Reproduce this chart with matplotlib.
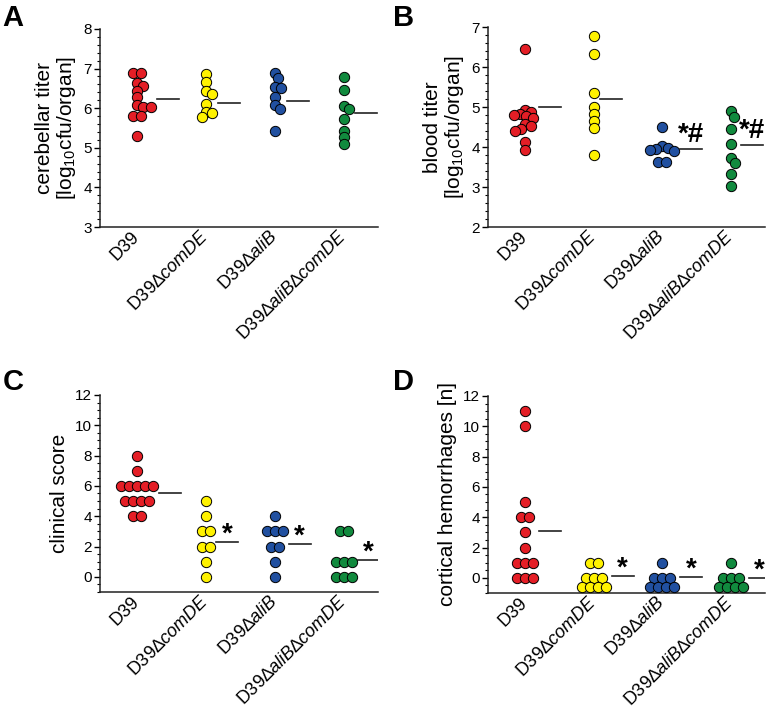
import matplotlib
matplotlib.use("Agg")
import matplotlib.pyplot as plt
from matplotlib.ticker import MultipleLocator
import numpy as np

plt.rcParams['font.family'] = ['Liberation Sans', 'DejaVu Sans']
plt.rcParams['mathtext.fontset'] = 'custom'
plt.rcParams['mathtext.rm'] = 'Liberation Sans'
plt.rcParams['mathtext.it'] = 'Liberation Sans:italic'

# group names and colours
groups = ['D39', 'D39\u2206$\\mathit{comDE}$', 'D39\u2206$\\mathit{aliB}$',
          'D39\u2206$\\mathit{aliB}$\u2206$\\mathit{comDE}$']
colors = ['#E41E26', '#FFF200', '#2150A0', '#118A3E']

# A: cerebellar titer
cereb = [
    [6.90, 6.90, 6.64, 6.56, 6.44, 6.27, 6.07, 6.02, 6.02, 5.80, 5.80, 5.29],
    [6.86, 6.66, 6.44, 6.36, 6.10, 5.90, 5.87, 5.77],
    [6.90, 6.76, 6.54, 6.52, 6.29, 6.07, 5.97, 5.43],
    [6.78, 6.46, 6.05, 5.98, 5.73, 5.43, 5.26, 5.09],
]
cereb_mean = [6.23, 6.14, 6.17, 5.88]
cereb_sig = ['', '', '', '']

# B: blood titer
blood = [
    [6.45, 4.93, 4.88, 4.82, 4.80, 4.77, 4.72, 4.58, 4.52, 4.45, 4.40, 4.12, 3.92],
    [6.78, 6.32, 5.35, 5.00, 4.82, 4.65, 4.48, 3.80],
    [4.50, 4.03, 3.97, 3.95, 3.93, 3.90, 3.62, 3.62],
    [4.89, 4.75, 4.46, 4.07, 3.73, 3.61, 3.33, 3.03],
]
blood_mean = [4.99, 5.20, 3.95, 4.05]
blood_sig = ['', '', '*#', '*#']

# C: clinical score
score = [
    [8, 7, 6, 6, 6, 6, 6, 5, 5, 5, 5, 4, 4],
    [5, 4, 3, 3, 2, 2, 1, 0],
    [4, 3, 3, 3, 2, 2, 1, 0],
    [3, 3, 1, 1, 1, 0, 0, 0],
]
score_mean = [5.54, 2.32, 2.15, 1.12]
score_sig = ['', '*', '*', '*']

# D: cortical hemorrhages
hemo = [
    [11, 10, 5, 4, 4, 3, 2, 1, 1, 1, 0, 0, 0],
    [1, 1, 0, 0, 0, 0, 0, 0, 0],
    [1, 0, 0, 0, 0, 0, 0, 0],
    [1, 0, 0, 0, 0, 0, 0, 0],
]
hemo_mean = [3.12, 0.15, 0.07, 0.0]
hemo_sig = ['', '*', '*', '*']

W, H = 769, 715
fig = plt.figure(figsize=(W / 100, H / 100), dpi=100)

TIE = 8.0      # px between dots with the same value
COLL = 6.5     # minimal px distance between other dots
RADIUS = 5.0


def swarm(values, ppx, ppy, max_row=None, row_dy=9.0):
    """Beeswarm layout in pixel space; returns x offsets and y values."""
    placed = []
    xs, ys = [], []
    for v in sorted(set(values), reverse=True):
        n = values.count(v)
        if max_row and n > max_row:
            rows = [(v, n - max_row), (v - row_dy / ppy, max_row)]
        else:
            rows = [(v, n)]
        for yv, m in rows:
            y_px = yv * ppy
            base = [(i - (m - 1) / 2) * TIE for i in range(m)]
            cands = [0.0]
            for px, py in placed:
                dy = abs(py - y_px)
                if dy < COLL:
                    dx = np.sqrt(COLL ** 2 - dy ** 2)
                    for b in base:
                        cands += [px + dx - b, px - dx - b]
            cands.sort(key=abs)
            shift = 0.0
            for c in cands:
                ok = all((c + b - px) ** 2 + (y_px - py) ** 2 >= COLL ** 2 - 1e-6
                         for b in base for px, py in placed)
                if ok:
                    shift = c
                    break
            for b in base:
                placed.append((shift + b, y_px))
                xs.append((shift + b) / ppx)
                ys.append(yv)
    return xs, ys


def panel(rect, data, means, sigs, ylim, yticks, minor, ylabel, letter, letter_xy,
          max_row=None):
    ax = fig.add_axes(rect)
    xlim = (-0.54, 3.5)
    ax.set_xlim(*xlim)
    ax.set_ylim(*ylim)
    ppx = rect[2] * W / (xlim[1] - xlim[0])
    ppy = rect[3] * H / (ylim[1] - ylim[0])
    for i, vals in enumerate(data):
        dx, yy = swarm(list(vals), ppx, ppy, max_row=max_row)
        ax.scatter(np.array(dx) + i, yy, s=55, color=colors[i], edgecolor='black',
                   linewidth=0.7, zorder=3, clip_on=False)
        x0 = i + max(dx) + (RADIUS + 1) / ppx
        x1 = x0 + 22 / ppx
        ax.plot([x0, x1], [means[i], means[i]], color='#222222', lw=1.2)
        if sigs[i]:
            off = 1 if len(sigs[i]) > 1 else -4
            ax.annotate(sigs[i], xy=((x0 + x1) / 2, means[i]), xytext=(0, off),
                        textcoords='offset points', ha='center', va='bottom',
                        fontsize=20, fontweight='bold')
    ax.spines['top'].set_visible(False)
    ax.spines['right'].set_visible(False)
    for s in ['left', 'bottom']:
        ax.spines[s].set_linewidth(1.1)
        ax.spines[s].set_color('#222222')
    ax.set_yticks(yticks)
    ax.yaxis.set_minor_locator(MultipleLocator(minor))
    ax.tick_params(axis='y', which='major', direction='out', length=4, width=1,
                   labelsize=11, pad=2)
    ax.tick_params(axis='y', which='minor', direction='out', length=2, width=0.8)
    ax.set_xticks(range(4))
    ax.set_xticklabels(groups, rotation=45, ha='right', va='center',
                       rotation_mode='anchor', fontsize=13)
    ax.tick_params(axis='x', length=0, pad=5)
    ax.set_ylabel(ylabel, fontsize=15, linespacing=1.05, labelpad=4)
    fig.text(letter_xy[0], letter_xy[1], letter, fontsize=21, fontweight='bold',
             ha='left', va='top')
    return ax


panel([0.130, 0.6825, 0.3615, 0.277], cereb, cereb_mean, cereb_sig, (3, 8),
      range(3, 9), 0.2, 'cerebellar titer\n[log$_{10}$cfu/organ]', 'A', (0.003, 0.995))
panel([0.6346, 0.6825, 0.3602, 0.2797], blood, blood_mean, blood_sig, (2, 7),
      range(2, 8), 0.2, 'blood titer\n[log$_{10}$cfu/organ]', 'B', (0.511, 0.995))
panel([0.130, 0.172, 0.3615, 0.2756], score, score_mean, score_sig, (-1, 12),
      range(0, 13, 2), 0.5, 'clinical score', 'C', (0.003, 0.485))
panel([0.6346, 0.1706, 0.3602, 0.2756], hemo, hemo_mean, hemo_sig, (-1, 12),
      range(0, 13, 2), 0.5, 'cortical hemorrhages [n]', 'D', (0.511, 0.485),
      max_row=4)

fig.savefig('out.png', dpi=100)
